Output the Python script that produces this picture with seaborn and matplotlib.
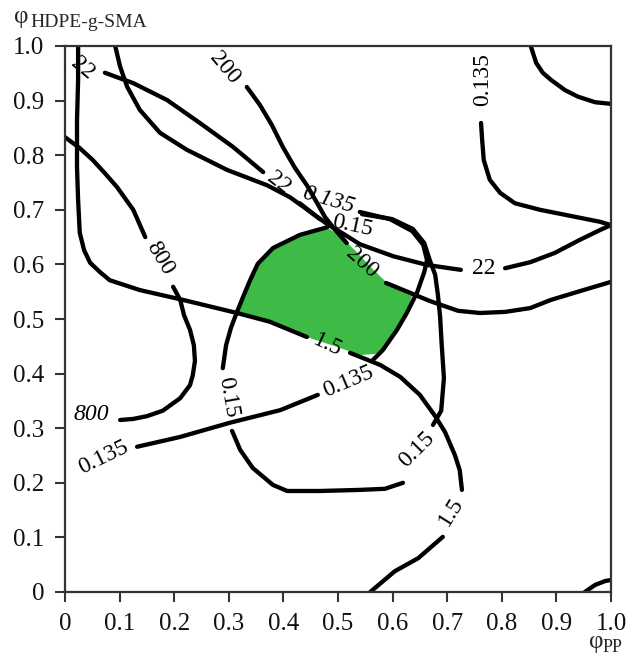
import matplotlib
matplotlib.use("Agg")
import matplotlib.pyplot as plt
import seaborn as sns
import pandas as pd

# Iso-lines in the (phi_PP, phi_HDPE-g-SMA) composition plane.
# Each segment is (phi_PP values, phi_HDPE-g-SMA values); gaps leave room for labels.
iso_1p5_a = ([0.024, 0.024, 0.022, 0.022, 0.024, 0.027, 0.035, 0.046, 0.064, 0.082, 0.137, 0.216, 0.315, 0.375, 0.443],
             [1.000, 0.938, 0.864, 0.778, 0.718, 0.658, 0.626, 0.603, 0.586, 0.571, 0.553, 0.535, 0.511, 0.495, 0.467])
iso_1p5_b = ([0.522, 0.577, 0.614, 0.650, 0.678, 0.696, 0.714, 0.723, 0.727],
             [0.438, 0.416, 0.394, 0.361, 0.322, 0.293, 0.251, 0.223, 0.187])
iso_1p5_c = ([0.692, 0.647, 0.604, 0.559],
             [0.101, 0.062, 0.038, 0.000])

iso_0135_a = ([0.092, 0.101, 0.114, 0.137, 0.174, 0.223, 0.297, 0.370, 0.412, 0.440, 0.467],
              [1.000, 0.962, 0.925, 0.883, 0.841, 0.810, 0.773, 0.745, 0.723, 0.703, 0.683])
iso_0135_b = ([0.540, 0.595, 0.636, 0.656, 0.663, 0.658, 0.645, 0.626, 0.608, 0.582, 0.564],
              [0.696, 0.683, 0.661, 0.636, 0.608, 0.586, 0.549, 0.511, 0.480, 0.443, 0.425])
iso_0135_c = ([0.463, 0.394, 0.302, 0.211, 0.132],
              [0.361, 0.333, 0.310, 0.284, 0.266])
iso_0135_d = ([0.762, 0.764, 0.767, 0.778, 0.797, 0.824, 0.870, 0.925, 0.980, 1.000],
              [0.859, 0.828, 0.791, 0.755, 0.731, 0.712, 0.700, 0.689, 0.678, 0.672])
iso_0135_e = ([0.853, 0.863, 0.875, 0.890, 0.916, 0.940, 0.971, 1.000],
              [1.000, 0.969, 0.951, 0.938, 0.919, 0.907, 0.897, 0.894])
iso_0135_f = ([0.952, 0.971, 0.989, 1.000],
              [0.000, 0.013, 0.020, 0.022])

iso_015_a = ([0.544, 0.599, 0.637, 0.658, 0.668, 0.678, 0.683, 0.687, 0.690, 0.694, 0.689, 0.674],
             [0.692, 0.683, 0.665, 0.639, 0.608, 0.581, 0.544, 0.504, 0.452, 0.392, 0.332, 0.306])
iso_015_b = ([0.619, 0.586, 0.540, 0.467, 0.407, 0.381, 0.344, 0.321, 0.306],
             [0.200, 0.189, 0.187, 0.185, 0.185, 0.196, 0.227, 0.260, 0.295])
iso_015_c = ([0.289, 0.295, 0.304, 0.315, 0.326, 0.339, 0.353, 0.381, 0.430, 0.480],
             [0.410, 0.452, 0.484, 0.513, 0.540, 0.571, 0.601, 0.630, 0.654, 0.668])

iso_200_a = ([0.333, 0.357, 0.379, 0.399, 0.421, 0.443, 0.462, 0.476, 0.495, 0.516],
             [0.925, 0.892, 0.855, 0.815, 0.777, 0.745, 0.712, 0.687, 0.663, 0.639])
iso_200_b = ([0.588, 0.632, 0.668, 0.720, 0.760, 0.806, 0.852, 0.890, 0.943, 1.000],
             [0.566, 0.548, 0.533, 0.515, 0.511, 0.513, 0.520, 0.535, 0.551, 0.568])

iso_22_a = ([0.073, 0.125, 0.187, 0.247, 0.308, 0.363],
            [0.951, 0.932, 0.901, 0.859, 0.815, 0.769])
iso_22_b = ([0.430, 0.458, 0.480, 0.513, 0.540, 0.601, 0.663, 0.725],
            [0.712, 0.690, 0.674, 0.654, 0.637, 0.615, 0.599, 0.590])
iso_22_c = ([0.806, 0.852, 0.897, 0.943, 0.980, 1.000],
            [0.593, 0.604, 0.621, 0.645, 0.663, 0.672])

iso_800_a = ([0.000, 0.027, 0.051, 0.073, 0.095, 0.125, 0.147],
             [0.833, 0.813, 0.791, 0.767, 0.742, 0.700, 0.650])
iso_800_b = ([0.198, 0.211, 0.218, 0.229, 0.236, 0.238, 0.234, 0.229, 0.211, 0.179, 0.150, 0.125, 0.101],
             [0.559, 0.535, 0.507, 0.480, 0.452, 0.423, 0.397, 0.379, 0.355, 0.332, 0.322, 0.317, 0.315])

# Region where all property requirements are met
optimum_pp = [0.480, 0.504, 0.531, 0.562, 0.590, 0.636, 0.623, 0.608, 0.586, 0.568,
              0.540, 0.504, 0.449, 0.375, 0.315, 0.326, 0.339, 0.353, 0.381, 0.430]
optimum_sma = [0.668, 0.652, 0.626, 0.593, 0.566, 0.544, 0.502, 0.476, 0.443, 0.436,
               0.434, 0.447, 0.465, 0.493, 0.509, 0.540, 0.571, 0.601, 0.630, 0.654]

# Iso-line labels: text, phi_PP, phi_HDPE-g-SMA, angle, italic
line_labels = [
    ("22", 0.033, 0.960, -40, False),
    ("22", 0.392, 0.749, -38, False),
    ("22", 0.767, 0.593, 0, False),
    ("200", 0.293, 0.960, -50, False),
    ("200", 0.544, 0.604, -42, False),
    ("0.135", 0.482, 0.718, -16, True),
    ("0.135", 0.764, 0.938, 90, False),
    ("0.135", 0.518, 0.385, 23, False),
    ("0.135", 0.071, 0.247, 26, False),
    ("0.15", 0.526, 0.670, -12, False),
    ("0.15", 0.299, 0.357, -80, False),
    ("0.15", 0.645, 0.260, 45, False),
    ("1.5", 0.480, 0.452, -25, False),
    ("1.5", 0.707, 0.148, 58, False),
    ("800", 0.174, 0.612, -59, False),
    ("800", 0.048, 0.326, 0, True),
]

tick_values = [0.0, 0.1, 0.2, 0.3, 0.4, 0.5, 0.6, 0.7, 0.8, 0.9, 1.0]
tick_labels = ["0", "0.1", "0.2", "0.3", "0.4", "0.5", "0.6", "0.7", "0.8", "0.9", "1.0"]

segments = {
    "1.5 a": iso_1p5_a, "1.5 b": iso_1p5_b, "1.5 c": iso_1p5_c,
    "0.135 a": iso_0135_a, "0.135 b": iso_0135_b, "0.135 c": iso_0135_c,
    "0.135 d": iso_0135_d, "0.135 e": iso_0135_e, "0.135 f": iso_0135_f,
    "0.15 a": iso_015_a, "0.15 b": iso_015_b, "0.15 c": iso_015_c,
    "200 a": iso_200_a, "200 b": iso_200_b,
    "22 a": iso_22_a, "22 b": iso_22_b, "22 c": iso_22_c,
    "800 a": iso_800_a, "800 b": iso_800_b,
}

rows = []
for name, (xs, ys) in segments.items():
    for i, (x, y) in enumerate(zip(xs, ys)):
        rows.append({"segment": name, "order": i, "phi_pp": x, "phi_sma": y})
lines = pd.DataFrame(rows)

sns.set_theme(style="white")
serif = ["Liberation Serif", "DejaVu Serif"]
plt.rcParams["font.family"] = serif

fig = plt.figure(figsize=(6.38, 6.58), dpi=100)
ax = fig.add_axes([65 / 638, 1 - 592 / 658, 546 / 638, 546 / 658])

ax.fill(optimum_pp, optimum_sma, color="#3dbb46", lw=0, zorder=1)

sns.lineplot(data=lines, x="phi_pp", y="phi_sma", units="segment", estimator=None,
             sort=False, color="black", linewidth=3.1, legend=False, ax=ax, zorder=2,
             solid_capstyle="round", solid_joinstyle="round")

for text, x, y, ang, ital in line_labels:
    ax.text(x, y, text, rotation=ang, rotation_mode="anchor", ha="center", va="center",
            fontsize=17, family=serif, style="italic" if ital else "normal",
            color="black", zorder=3)

ax.set_xlim(0, 1)
ax.set_ylim(0, 1)
ax.set_xticks(tick_values)
ax.set_xticklabels(tick_labels)
ax.set_yticks(tick_values)
ax.set_yticklabels(tick_labels)
ax.set_xlabel("")
ax.set_ylabel("")
ax.tick_params(axis="both", which="major", direction="out", length=7, width=1.5,
               color="#333333", labelsize=18, labelcolor="#111111", pad=8,
               bottom=True, left=True, top=False, right=False)
for side, spine in ax.spines.items():
    spine.set_visible(True)
    spine.set_color("#333333")
    spine.set_linewidth(1.6)

# axis titles: phi with a subscript
fig.text(14 / 638, 1 - 23 / 658, "φ", fontsize=18, family=serif, va="baseline", ha="left")
fig.text(30 / 638, 1 - 27 / 658, "HDPE-g-SMA", fontsize=14, family=serif, va="baseline", ha="left")
fig.text(589 / 638, 1 - 648 / 658, "φ", fontsize=18, family=serif, va="baseline", ha="left")
fig.text(603 / 638, 1 - 652 / 658, "PP", fontsize=13, family=serif, va="baseline", ha="left")

fig.savefig("out.png", dpi=100)
